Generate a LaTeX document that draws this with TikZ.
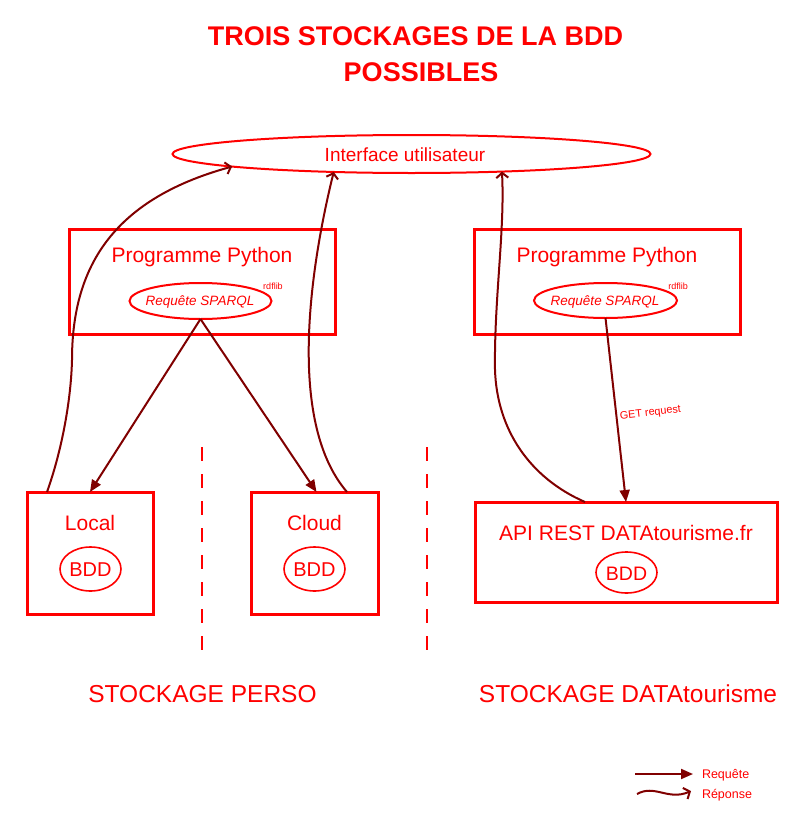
\documentclass[tikz,border=0pt]{standalone}
\usepackage{fontspec}
\setmainfont{Liberation Sans}
\usetikzlibrary{arrows.meta,shapes.geometric,calc}
\definecolor{rouge}{RGB}{255,0,0}
\definecolor{fleche}{RGB}{128,0,0}
\begin{document}
\begin{tikzpicture}[x=1pt,y=-1pt,
  txt/.style={inner sep=0pt,outer sep=0pt,anchor=base,text=rouge},
  boite/.style={draw=rouge,line width=3pt,rectangle,inner sep=0pt,outer sep=0pt},
  ovale/.style={draw=rouge,ellipse,line width=2pt,inner sep=0pt,outer sep=0pt},
  petitovale/.style={draw=rouge,ellipse,line width=1.6pt,inner sep=0pt,outer sep=0pt},
  requete/.style={draw=fleche,line width=2pt,-{Triangle[length=12pt,width=10pt]}},
  reponse/.style={draw=fleche,line width=2pt,-{Straight Barb[length=5pt,width=12pt]}},
  separateur/.style={draw=rouge,line width=2pt,dash pattern=on 14pt off 13pt},
  fgrand/.style={font=\fontsize{21}{25}\selectfont},
]
\useasboundingbox (0,0) rectangle (804,827);
\fill[white] (0,0) rectangle (804,827);

% title
\node[txt,font=\bfseries\fontsize{27}{32}\selectfont] (titre1) at (415.5,45) {TROIS STOCKAGES DE LA BDD};
\node[txt,font=\bfseries\fontsize{27}{32}\selectfont] (titre2) at (421,81.5) {POSSIBLES};

% interface
\node[ovale,minimum width=478pt,minimum height=38pt] (ui) at (411.5,154) {};
\node[txt,font=\fontsize{19}{23}\selectfont] (uitxt) at (405,161.5) {Interface utilisateur};

% left python box
\node[boite,minimum width=266pt,minimum height=105pt] (py1) at (202,281.5) {};
\node[txt,fgrand] (py1txt) at (202,262) {Programme Python};
\node[ovale,minimum width=142pt,minimum height=36pt] (req1) at (200.5,301) {};
\node[txt,font=\itshape\fontsize{13.5}{16}\selectfont] (req1txt) at (200,305) {Requête SPARQL};
\node[txt,font=\fontsize{9}{11}\selectfont] (rdf1) at (273,289.5) {rdflib};

% right python box
\node[boite,minimum width=266pt,minimum height=105pt] (py2) at (607.5,281.5) {};
\node[txt,fgrand] (py2txt) at (607,262) {Programme Python};
\node[ovale,minimum width=143pt,minimum height=35pt] (req2) at (605.5,300.5) {};
\node[txt,font=\itshape\fontsize{13.5}{16}\selectfont] (req2txt) at (605,305) {Requête SPARQL};
\node[txt,font=\fontsize{9}{11}\selectfont] (rdf2) at (678,289.5) {rdflib};

% Local
\node[boite,minimum width=126pt,minimum height=122pt] (local) at (90,553) {};
\node[txt,fgrand] (localtxt) at (90,530) {Local};
\node[petitovale,minimum width=61pt,minimum height=44pt] (bdd1) at (90.5,569) {};
\node[txt,font=\fontsize{20}{24}\selectfont] (bdd1txt) at (90.5,576) {BDD};

% Cloud
\node[boite,minimum width=127pt,minimum height=122pt] (cloud) at (314.5,553) {};
\node[txt,fgrand] (cloudtxt) at (314.5,530) {Cloud};
\node[petitovale,minimum width=61pt,minimum height=44pt] (bdd2) at (314.5,569) {};
\node[txt,font=\fontsize{20}{24}\selectfont] (bdd2txt) at (314.5,576) {BDD};

% API
\node[boite,minimum width=302pt,minimum height=100pt] (api) at (626,552) {};
\node[txt,fgrand] (apitxt) at (626,540) {API REST DATAtourisme.fr};
\node[petitovale,minimum width=61pt,minimum height=41pt] (bdd3) at (626.5,572.5) {};
\node[txt,font=\fontsize{19.5}{23}\selectfont] (bdd3txt) at (626.5,580) {BDD};

% separators
\coordinate (s1a) at (202,447); \coordinate (s1b) at (202,652);
\coordinate (s2a) at (427,447); \coordinate (s2b) at (427,652);
\draw[separateur] (s1a) -- (s1b);
\draw[separateur] (s2a) -- (s2b);

% storage labels
\node[txt,font=\fontsize{24.5}{29}\selectfont] (perso) at (202.5,702) {STOCKAGE PERSO};
\node[txt,font=\fontsize{24.5}{29}\selectfont] (dt) at (628,702) {STOCKAGE DATAtourisme};

% requests
\draw[requete] (req1.south) -- (local.north);
\draw[requete] (req1.south) -- ($(cloud.north)+(2,0)$);
\draw[requete] (req2.south) -- (api.north);
\node[txt,anchor=center,rotate=6.5,font=\fontsize{10.8}{13}\selectfont] (get) at (650.5,413) {GET request};

% responses
\coordinate (r1) at ($(local.north west)+(20,0)$);
\coordinate (r1m) at (72,360);
\draw[reponse] (r1) .. controls (62,450) and (71,400) .. (r1m)
  .. controls (72,270) and (110,200) .. (ui.184);
\coordinate (r2) at ($(cloud.north east)+(-31,0)$);
\draw[reponse] (r2) .. controls (285,420) and (312,260) .. (ui.193);
\coordinate (r3) at ($(api.north west)+(110,0)$);
\coordinate (r3m) at (495,370);
\draw[reponse] (r3) .. controls (530,478) and (497,430) .. (r3m)
  .. controls (494,300) and (505,230) .. (ui.349.5);

% legend
\coordinate (la) at (635,774); \coordinate (lb) at (693,774);
\draw[requete] (la) -- (lb);
\node[txt,anchor=base west,font=\fontsize{12.5}{15}\selectfont] (legreq) at (702,778.3) {Requête};
\coordinate (wa) at (637,794); \coordinate (wb) at (691,791);
\draw[reponse] (wa) .. controls (655,784) and (668,801) .. (wb);
\node[txt,anchor=base west,font=\fontsize{12.5}{15}\selectfont] (legrep) at (702,798) {Réponse};
\end{tikzpicture}
\end{document}
